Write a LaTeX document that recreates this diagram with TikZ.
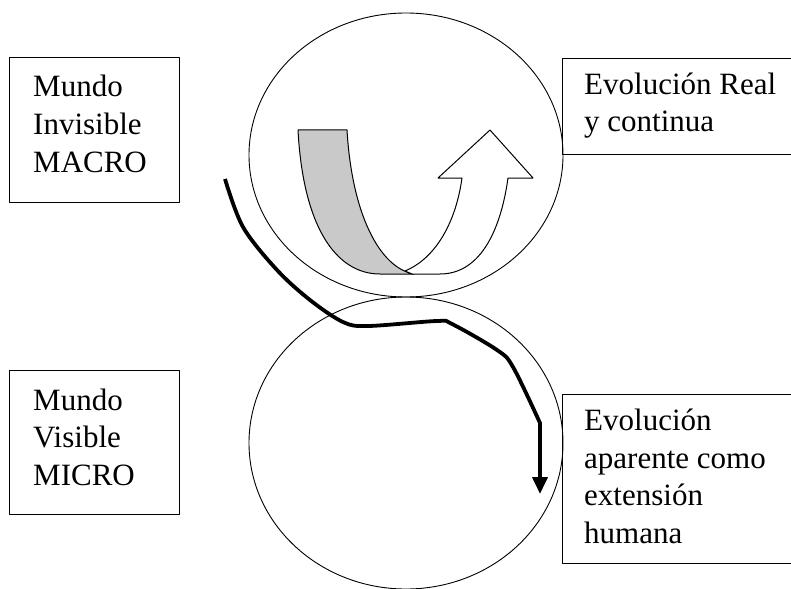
\documentclass[tikz,border=0pt]{standalone}
\usepackage{fontspec}
\setmainfont{Liberation Serif}
\usetikzlibrary{shapes.geometric,arrows.meta}
\begin{document}
\begin{tikzpicture}[x=1pt,y=-1pt,line join=round,
  box/.style={draw,line width=1.2pt,rectangle,inner sep=0pt,anchor=north west},
  circ/.style={draw,line width=0.9pt,ellipse,inner sep=0pt},
  lbl/.style={anchor=base west,inner sep=0pt,align=left,font=\fontsize{31}{37.5}\selectfont},
  ribbon/.style={draw,line width=1pt}]
\clip (0,0) rectangle (791,588);
\fill[white] (0,0) rectangle (791,588);
% circles
\node[circ,minimum width=314pt,minimum height=284pt] (topc) at (406,155) {};
\node[circ,minimum width=314pt,minimum height=292pt] (botc) at (406,443) {};
% boxes
\node[box,minimum width=170pt,minimum height=145pt] (macrobox) at (9,57) {};
\node[box,minimum width=170pt,minimum height=144pt] (microbox) at (9,370) {};
\node[box,minimum width=250pt,minimum height=96pt] (realbox) at (562,58) {};
\node[box,minimum width=250pt,minimum height=169pt] (apbox) at (562,394) {};
% texts (anchored at the baseline of their last line)
\node[lbl] (macrot) at (33,172) {Mundo\\Invisible\\MACRO};
\node[lbl] (microt) at (33,485) {Mundo\\Visible\\MICRO};
\node[lbl] (realt) at (584,132) {Evolución Real\\y continua};
\node[lbl] (apt) at (584,543) {Evolución\\aparente como\\extensión\\humana};
% U-turn arrow
\filldraw[ribbon,fill=black!21] (298,130) -- (347,130)
  .. controls (352,215) and (380,268) .. (414,274) -- (380,274)
  .. controls (335,274) and (303,225) .. (298,130) -- cycle;
\filldraw[ribbon,fill=white] (405,271)
  .. controls (432,260) and (455,228) .. (462,178) -- (438,178) -- (490,130)
  -- (533,178) -- (508,178)
  .. controls (500,235) and (478,274) .. (440,274) -- (412,274) -- cycle;
% thick path
\coordinate (s) at (225,179);
\coordinate (e) at (540,494);
\draw[line width=3.8pt,-{Triangle[length=17pt,width=15pt]}] (s)
  plot[smooth,tension=0.55] coordinates {(225,179) (243,227) (277,270) (310,300) (343,322) (368,326) (437,321) (452,324) (497,350) (513,367) (540,423)}
  -- (540,440) -- (e);
\end{tikzpicture}
\end{document}
